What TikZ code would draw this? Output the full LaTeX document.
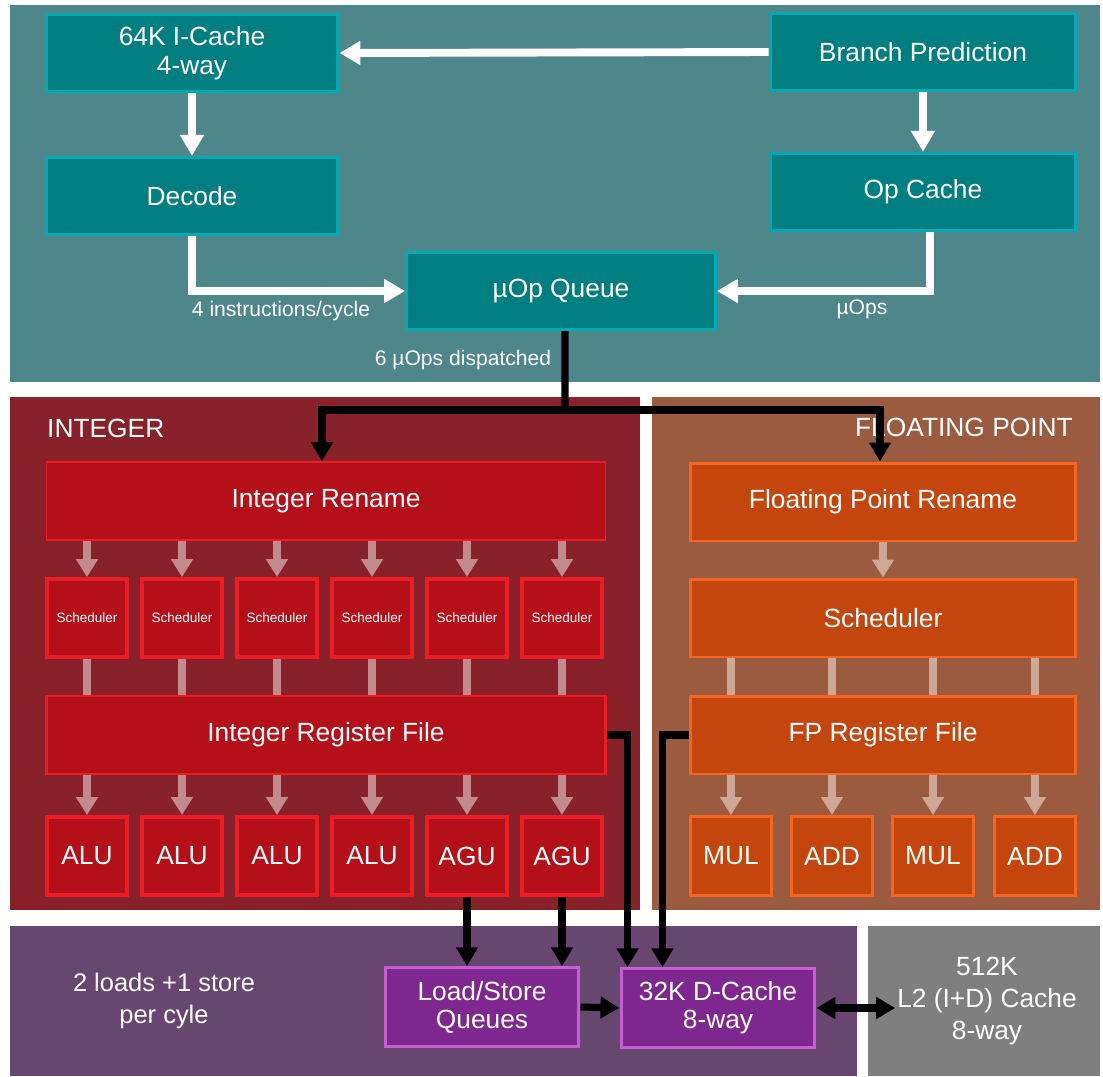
\documentclass[tikz,border=0pt]{standalone}
\usepackage{fontspec}
\setmainfont{Liberation Sans}
\usetikzlibrary{arrows.meta}

\definecolor{frontbg}{HTML}{4E8789}
\definecolor{frontfill}{HTML}{007E82}
\definecolor{frontedge}{HTML}{00AAB5}
\definecolor{intbg}{HTML}{88212A}
\definecolor{intfill}{HTML}{B50F18}
\definecolor{intedge}{HTML}{EC1C24}
\definecolor{intlink}{HTML}{C28A8C}
\definecolor{fpbg}{HTML}{9B5B3E}
\definecolor{fpfill}{HTML}{C4460D}
\definecolor{fpedge}{HTML}{F26522}
\definecolor{fplink}{HTML}{CFA795}
\definecolor{membg}{HTML}{67466F}
\definecolor{memfill}{HTML}{7E288F}
\definecolor{memedge}{HTML}{C65FD3}
\definecolor{l2bg}{HTML}{7F7F7F}

\newcommand{\boxfont}{\fontsize{15}{16.5}\selectfont}
\newcommand{\notefont}{\fontsize{12}{14}\selectfont}
\newcommand{\schedfont}{\fontsize{7.7}{9}\selectfont}

\tikzset{
  frontbox/.style={draw=frontedge, fill=frontfill, line width=1.7pt, text=white,
    align=center, font=\boxfont, minimum height=1.55cm},
  intbox/.style={draw=intedge, fill=intfill, line width=1pt, text=white,
    align=center, font=\boxfont, minimum width=11.18cm, minimum height=1.56cm},
  unitbox/.style={draw=intedge, fill=intfill, line width=2.2pt, text=white,
    align=center, font=\boxfont, minimum width=1.6cm, minimum height=1.56cm},
  fpbox/.style={draw=fpedge, fill=fpfill, line width=1.7pt, text=white,
    align=center, font=\boxfont, minimum width=7.72cm, minimum height=1.56cm},
  fpunit/.style={draw=fpedge, fill=fpfill, line width=1.7pt, text=white,
    align=center, font=\boxfont, minimum width=1.62cm, minimum height=1.58cm},
  membox/.style={draw=memedge, fill=memfill, line width=1.7pt, text=white,
    align=center, font=\fontsize{15}{16}\selectfont, minimum width=3.88cm, minimum height=1.57cm},
  headtext/.style={text=white, font=\fontsize{15}{18}\selectfont},
  notetext/.style={text=white, font=\notefont},
  whitearrow/.style={draw=white, line width=4.5pt, -{Triangle[width=0.46cm,length=0.42cm]}},
  blackline/.style={draw=black, line width=4pt},
  blackarrow/.style={blackline, -{Triangle[width=0.42cm,length=0.38cm]}},
  intarrow/.style={draw=intlink, line width=4.5pt, -{Triangle[width=0.42cm,length=0.36cm]}},
  intline/.style={draw=intlink, line width=4.5pt},
  fparrow/.style={draw=fplink, line width=4.5pt, -{Triangle[width=0.42cm,length=0.36cm]}},
  fpline/.style={draw=fplink, line width=4.5pt}
}

\begin{document}
\begin{tikzpicture}[x=0.02cm, y=-0.02cm]
  \useasboundingbox (0,0) rectangle (1103,1076);

  % panels
  \fill[frontbg] (10,5) rectangle (1100,382);
  \fill[intbg] (10,397) rectangle (640,910);
  \fill[fpbg] (652,397) rectangle (1100,910);
  \fill[membg] (10,926) rectangle (857,1076);
  \fill[l2bg] (868,926) rectangle (1100,1076);

  % front end
  \node[frontbox, minimum width=5.84cm] (icache) at (192,53) {64K I-Cache\\4-way};
  \node[frontbox, minimum width=6.12cm] (branch) at (923,52) {Branch Prediction};
  \node[frontbox, minimum width=5.84cm] (decode) at (192,196) {Decode};
  \node[frontbox, minimum width=6.12cm] (opcache) at (923,192) {Op Cache};
  \node[frontbox, minimum width=6.18cm] (uopq) at (561,291) {µOp Queue};
  \node[notetext] (instrlbl) at (281,311) {4 instructions/cycle};
  \node[notetext] (uopslbl) at (862,309) {µOps};
  \node[notetext] (displbl) at (463,360) {6 µOps dispatched};

  % integer
  \node[headtext, anchor=west] (inthead) at (41,428) {INTEGER};
  \node[intbox] (irename) at (326,501) {Integer Rename};
  \node[unitbox, font=\schedfont] (isched1) at (87,618) {Scheduler};
  \node[unitbox, font=\schedfont] (isched2) at (182,618) {Scheduler};
  \node[unitbox, font=\schedfont] (isched3) at (277,618) {Scheduler};
  \node[unitbox, font=\schedfont] (isched4) at (372,618) {Scheduler};
  \node[unitbox, font=\schedfont] (isched5) at (467,618) {Scheduler};
  \node[unitbox, font=\schedfont] (isched6) at (562,618) {Scheduler};
  \node[intbox, line width=1.6pt] (iregfile) at (326,735) {Integer Register File};
  \node[unitbox] (alu1) at (87,856) {ALU};
  \node[unitbox] (alu2) at (182,856) {ALU};
  \node[unitbox] (alu3) at (277,856) {ALU};
  \node[unitbox] (alu4) at (372,856) {ALU};
  \node[unitbox] (agu1) at (467,856) {AGU};
  \node[unitbox] (agu2) at (562,856) {AGU};

  % floating point
  \node[headtext, anchor=east] (fphead) at (1079,427) {FLOATING POINT};
  \node[fpbox] (fprename) at (883,502) {Floating Point Rename};
  \node[fpbox] (fpsched) at (883,618) {Scheduler};
  \node[fpbox] (fpregfile) at (883,735) {FP Register File};
  \node[fpunit] (mul1) at (731,856) {MUL};
  \node[fpunit] (add1) at (832,856) {ADD};
  \node[fpunit] (mul2) at (933,856) {MUL};
  \node[fpunit] (add2) at (1035,856) {ADD};

  % memory
  \node[text=white, align=center, font=\fontsize{14.5}{18}\selectfont] (ldstnote) at (164,1001) {2 loads +1 store\\per cyle};
  \node[membox] (lsq) at (482,1007) {Load/Store\\Queues};
  \node[membox] (dcache) at (718,1008) {32K D-Cache\\8-way};
  \node[text=white, align=center, inner sep=1pt, font=\fontsize{15}{18}\selectfont] (l2) at (987,1001) {512K\\L2 (I+D) Cache\\8-way};

  % front end flow
  \draw[whitearrow] (branch.west) -- (icache.east);
  \draw[whitearrow] (icache.south) -- (decode.north);
  \draw[whitearrow] (branch.south) -- (opcache.north);
  \draw[whitearrow] (decode.south) |- (uopq.west);
  \draw[whitearrow] ([xshift=0.14cm]opcache.south) |- (uopq.east);

  % dispatch
  \coordinate (split) at (565,410);
  \draw[blackline] ([xshift=0.08cm]uopq.south) -- (split);
  \draw[blackarrow] ([xshift=0.02cm]split) -| ([xshift=-0.08cm]irename.north);
  \draw[blackarrow] ([xshift=-0.02cm]split) -| ([xshift=-0.06cm]fprename.north);

  % integer flow
  \draw[intarrow] (isched1.north |- irename.south) -- (isched1.north);
  \draw[intarrow] (isched2.north |- irename.south) -- (isched2.north);
  \draw[intarrow] (isched3.north |- irename.south) -- (isched3.north);
  \draw[intarrow] (isched4.north |- irename.south) -- (isched4.north);
  \draw[intarrow] (isched5.north |- irename.south) -- (isched5.north);
  \draw[intarrow] (isched6.north |- irename.south) -- (isched6.north);
  \draw[intline] (isched1.south) -- (isched1.south |- iregfile.north);
  \draw[intline] (isched2.south) -- (isched2.south |- iregfile.north);
  \draw[intline] (isched3.south) -- (isched3.south |- iregfile.north);
  \draw[intline] (isched4.south) -- (isched4.south |- iregfile.north);
  \draw[intline] (isched5.south) -- (isched5.south |- iregfile.north);
  \draw[intline] (isched6.south) -- (isched6.south |- iregfile.north);
  \draw[intarrow] (alu1.north |- iregfile.south) -- (alu1.north);
  \draw[intarrow] (alu2.north |- iregfile.south) -- (alu2.north);
  \draw[intarrow] (alu3.north |- iregfile.south) -- (alu3.north);
  \draw[intarrow] (alu4.north |- iregfile.south) -- (alu4.north);
  \draw[intarrow] (agu1.north |- iregfile.south) -- (agu1.north);
  \draw[intarrow] (agu2.north |- iregfile.south) -- (agu2.north);

  % fp flow
  \draw[fparrow] (fprename.south) -- (fpsched.north);
  \draw[fpline] (mul1.north |- fpsched.south) -- (mul1.north |- fpregfile.north);
  \draw[fpline] (add1.north |- fpsched.south) -- (add1.north |- fpregfile.north);
  \draw[fpline] (mul2.north |- fpsched.south) -- (mul2.north |- fpregfile.north);
  \draw[fpline] (add2.north |- fpsched.south) -- (add2.north |- fpregfile.north);
  \draw[fparrow] (mul1.north |- fpregfile.south) -- (mul1.north);
  \draw[fparrow] (add1.north |- fpregfile.south) -- (add1.north);
  \draw[fparrow] (mul2.north |- fpregfile.south) -- (mul2.north);
  \draw[fparrow] (add2.north |- fpregfile.south) -- (add2.north);

  % load / store
  \draw[blackarrow] (agu1.south) -- (agu1.south |- lsq.north);
  \draw[blackarrow] (agu2.south) -- (agu2.south |- lsq.north);
  \draw[blackarrow] (iregfile.east) -| ([xshift=0.16cm]dcache.north west);
  \draw[blackarrow] (fpregfile.west) -| ([xshift=0.86cm]dcache.north west);
  \draw[blackarrow] (lsq.east) -- (dcache.west);
  \draw[blackline, {Triangle[width=0.42cm,length=0.38cm]}-{Triangle[width=0.42cm,length=0.38cm]}] (dcache.east) -- (l2.west |- dcache.east);
\end{tikzpicture}
\end{document}
